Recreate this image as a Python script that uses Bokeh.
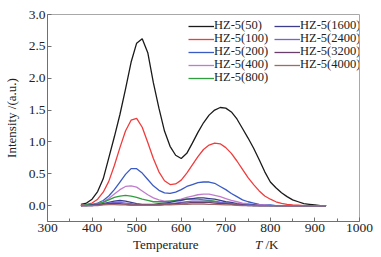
from bokeh.plotting import figure
from bokeh.models import Legend, LegendItem, Range1d, FixedTicker, CustomJSTickFormatter, Div
from bokeh.layouts import column
from bokeh.embed import file_html
from bokeh.resources import INLINE

T = [375, 387.5, 400, 412.5, 425, 437.5, 450, 462.5, 475, 487.5,
     500, 512.5, 525, 537.5, 550, 562.5, 575, 587.5, 600, 612.5,
     625, 637.5, 650, 662.5, 675, 687.5, 700, 712.5, 725, 737.5,
     750, 762.5, 775, 787.5, 800, 812.5, 825, 837.5, 850, 862.5,
     875, 887.5, 900, 912.5, 925]

hz50 = [0.02, 0.04, 0.10, 0.22, 0.42, 0.75, 1.08, 1.43, 1.83, 2.25,
        2.55, 2.62, 2.40, 1.93, 1.53, 1.17, 0.93, 0.79, 0.74, 0.82,
        0.98, 1.15, 1.30, 1.42, 1.50, 1.54, 1.53, 1.47, 1.36, 1.21,
        1.06, 0.90, 0.72, 0.53, 0.37, 0.28, 0.20, 0.14, 0.09, 0.06,
        0.03, 0.02, 0.01, 0.0, 0.0]
hz100 = [0.01, 0.02, 0.04, 0.10, 0.21, 0.38, 0.63, 0.91, 1.17, 1.34,
         1.37, 1.23, 0.99, 0.74, 0.53, 0.39, 0.33, 0.34, 0.40, 0.51,
         0.64, 0.77, 0.88, 0.95, 0.98, 0.97, 0.91, 0.82, 0.70, 0.57,
         0.44, 0.33, 0.23, 0.15, 0.10, 0.06, 0.035, 0.02, 0.01, 0.005,
         0.0, 0.0, 0.0, 0.0, 0.0]
hz200 = [0.0, 0.01, 0.02, 0.04, 0.08, 0.15, 0.25, 0.37, 0.49, 0.58,
         0.58, 0.51, 0.41, 0.31, 0.24, 0.20, 0.19, 0.21, 0.25, 0.30,
         0.33, 0.36, 0.37, 0.37, 0.35, 0.30, 0.25, 0.19, 0.14, 0.09,
         0.06, 0.04, 0.02, 0.01, 0.01, 0.0, 0.0, 0.0, 0.0, 0.0,
         0.0, 0.0, 0.0, 0.0, 0.0]
hz400 = [0.0, 0.01, 0.01, 0.03, 0.06, 0.11, 0.18, 0.25, 0.30, 0.31,
         0.29, 0.23, 0.17, 0.12, 0.09, 0.07, 0.07, 0.08, 0.10, 0.13,
         0.15, 0.17, 0.18, 0.18, 0.16, 0.14, 0.11, 0.08, 0.06, 0.04,
         0.03, 0.02, 0.01, 0.01, 0.0, 0.0, 0.0, 0.0, 0.0, 0.0,
         0.0, 0.0, 0.0, 0.0, 0.0]
hz800 = [0.0, 0.01, 0.01, 0.03, 0.05, 0.09, 0.13, 0.15, 0.16, 0.15,
         0.13, 0.10, 0.08, 0.06, 0.06, 0.06, 0.07, 0.08, 0.09, 0.10,
         0.10, 0.10, 0.09, 0.08, 0.07, 0.05, 0.04, 0.03, 0.02, 0.01,
         0.01, 0.0, 0.0, 0.0, 0.0, 0.0, 0.0, 0.0, 0.0, 0.0,
         0.0, 0.0, 0.0, 0.0, 0.0]
hz1600 = [0.0, 0.0, 0.01, 0.01, 0.03, 0.05, 0.07, 0.08, 0.07, 0.05,
          0.03, 0.02, 0.02, 0.02, 0.03, 0.04, 0.05, 0.07, 0.08, 0.10,
          0.11, 0.12, 0.12, 0.11, 0.10, 0.08, 0.06, 0.05, 0.03, 0.02,
          0.01, 0.01, 0.0, 0.0, 0.0, 0.0, 0.0, 0.0, 0.0, 0.0,
          0.0, 0.0, 0.0, 0.0, 0.0]
hz2400 = [0.0, 0.0, 0.0, 0.01, 0.02, 0.04, 0.05, 0.05, 0.04, 0.03,
          0.02, 0.01, 0.01, 0.01, 0.02, 0.03, 0.03, 0.04, 0.05, 0.06,
          0.07, 0.07, 0.07, 0.07, 0.06, 0.05, 0.04, 0.03, 0.02, 0.01,
          0.01, 0.0, 0.0, 0.0, 0.0, 0.0, 0.0, 0.0, 0.0, 0.0,
          0.0, 0.0, 0.0, 0.0, 0.0]
hz3200 = [0.0, 0.0, 0.0, 0.01, 0.02, 0.03, 0.03, 0.03, 0.02, 0.01,
          0.01, 0.01, 0.01, 0.01, 0.01, 0.02, 0.02, 0.03, 0.04, 0.04,
          0.05, 0.05, 0.05, 0.05, 0.04, 0.03, 0.03, 0.02, 0.01, 0.01,
          0.0, 0.0, 0.0, 0.0, 0.0, 0.0, 0.0, 0.0, 0.0, 0.0,
          0.0, 0.0, 0.0, 0.0, 0.0]
hz4000 = [0.0, 0.0, 0.0, 0.0, 0.01, 0.015, 0.015, 0.01, 0.01, 0.005,
          0.005, 0.005, 0.005, 0.005, 0.005, 0.01, 0.01, 0.015, 0.02, 0.02,
          0.025, 0.025, 0.025, 0.02, 0.02, 0.015, 0.01, 0.01, 0.005, 0.0,
          0.0, 0.0, 0.0, 0.0, 0.0, 0.0, 0.0, 0.0, 0.0, 0.0,
          0.0, 0.0, 0.0, 0.0, 0.0]

names = ["HZ-5(50)", "HZ-5(100)", "HZ-5(200)", "HZ-5(400)", "HZ-5(800)",
         "HZ-5(1600)", "HZ-5(2400)", "HZ-5(3200)", "HZ-5(4000)"]
series = [hz50, hz100, hz200, hz400, hz800, hz1600, hz2400, hz3200, hz4000]
colors = ["#1a1a1a", "#f03c3c", "#3a5ac4", "#c07ccc", "#2e9e3e",
          "#3c3c8c", "#7464d2", "#6a3e6a", "#a06868"]

x_ticks = [300, 400, 500, 600, 700, 800, 900, 1000]
x_minor = [350, 450, 550, 650, 750, 850, 950]
y_ticks = [0.0, 0.5, 1.0, 1.5, 2.0, 2.5, 3.0]

FONT = "Liberation Serif"

p = figure(width=375, height=238, output_backend="svg", toolbar_location=None,
           x_range=Range1d(300, 1000), y_range=Range1d(-0.25, 3.0),
           min_border_left=43, min_border_right=16, min_border_top=14,
           min_border_bottom=17)
p.background_fill_color = "white"
p.border_fill_color = "white"
p.outline_line_color = "#a8a8a8"
p.xgrid.visible = False
p.ygrid.visible = False

renderers = []
for ys, c in zip(series, colors):
    renderers.append(p.line(T, ys, line_color=c, line_width=1.3))

p.xaxis.ticker = FixedTicker(ticks=x_ticks, minor_ticks=x_minor)
p.yaxis.ticker = FixedTicker(ticks=y_ticks)
p.yaxis.formatter = CustomJSTickFormatter(code="return tick.toFixed(1);")

for ax in (p.xaxis[0], p.yaxis[0]):
    ax.axis_line_color = "#707070"
    ax.major_tick_line_color = "#707070"
    ax.minor_tick_line_color = "#707070"
    ax.major_tick_in = 4
    ax.major_tick_out = 0
    ax.minor_tick_in = 3
    ax.minor_tick_out = 0
    ax.major_label_text_font = FONT
    ax.major_label_text_font_size = "13.5px"
    ax.major_label_text_color = "#222222"
    ax.major_label_standoff = 2

p.yaxis.axis_label = "Intensity /(a.u.)"
p.yaxis.axis_label_text_font = FONT
p.yaxis.axis_label_text_font_size = "13px"
p.yaxis.axis_label_text_font_style = "normal"
p.yaxis.axis_label_text_color = "#222222"
p.yaxis.axis_label_standoff = 7

# one legend per entry so the row pitch matches the reference
col_x = [141, 227]
row_y = [188, 175, 162, 149, 136]
for i in range(len(names)):
    c, r = (0, i) if i < 5 else (1, i - 5)
    lg = Legend(items=[LegendItem(label=names[i], renderers=[renderers[i]])],
                location=(col_x[c], row_y[r]), orientation="vertical",
                glyph_width=26, glyph_height=12, label_height=12,
                label_standoff=0, spacing=0, padding=0, margin=0,
                border_line_alpha=0, background_fill_alpha=0,
                label_text_font=FONT, label_text_font_size="12.5px",
                label_text_color="#222222")
    p.add_layout(lg)

xtitle = Div(
    width=375, height=16, styles={"overflow": "visible"},
    text=('<div style="position:relative;width:375px;height:16px;overflow:visible;'
          'font-family:\'Liberation Serif\';font-size:13px;line-height:13px;color:#222222;">'
          '<span style="position:absolute;left:128px;top:-5px;">Temperature</span>'
          '<span style="position:absolute;left:250px;top:-5px;"><i>T</i> /K</span>'
          '</div>'))

layout = column(p, xtitle, spacing=0)
open("out.html", "w").write(file_html(layout, INLINE))
